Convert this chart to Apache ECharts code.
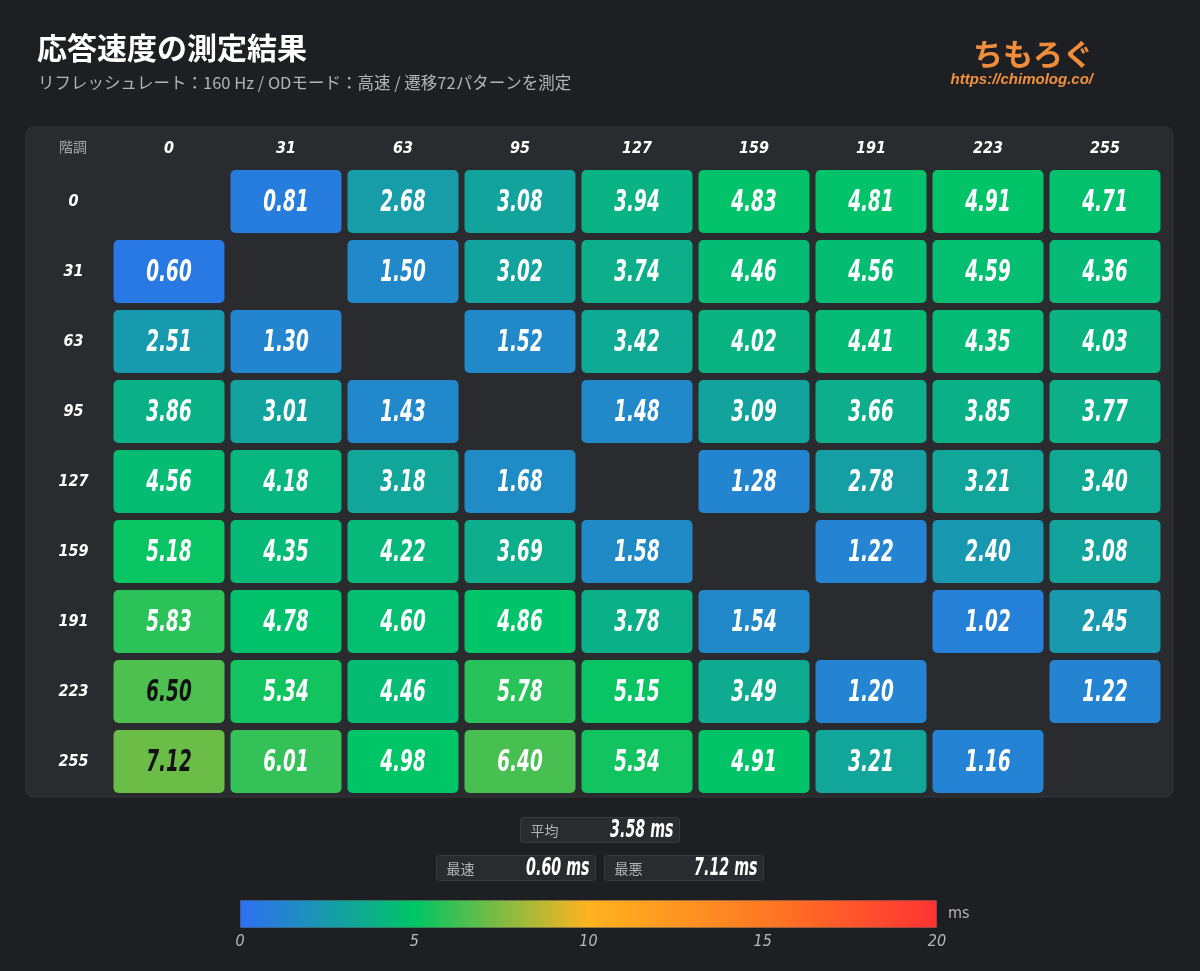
<!DOCTYPE html>
<html>
<head>
<meta charset="utf-8">
<script src="https://cdn.jsdelivr.net/npm/echarts@6/dist/echarts.min.js"></script>
<style>
    html, body { margin: 0; padding: 0; background: #1e1f22; }
    #main { width: 1200px; height: 971px; }
</style>
</head>
<body>
<div id="main"></div>
<script>
    // 階調 (from = row, to = column); the diagonal has no measurement
    var levels = ['0', '31', '63', '95', '127', '159', '191', '223', '255'];
    var from0   = [null, 0.81, 2.68, 3.08, 3.94, 4.83, 4.81, 4.91, 4.71];
    var from31  = [0.60, null, 1.50, 3.02, 3.74, 4.46, 4.56, 4.59, 4.36];
    var from63  = [2.51, 1.30, null, 1.52, 3.42, 4.02, 4.41, 4.35, 4.03];
    var from95  = [3.86, 3.01, 1.43, null, 1.48, 3.09, 3.66, 3.85, 3.77];
    var from127 = [4.56, 4.18, 3.18, 1.68, null, 1.28, 2.78, 3.21, 3.40];
    var from159 = [5.18, 4.35, 4.22, 3.69, 1.58, null, 1.22, 2.40, 3.08];
    var from191 = [5.83, 4.78, 4.60, 4.86, 3.78, 1.54, null, 1.02, 2.45];
    var from223 = [6.50, 5.34, 4.46, 5.78, 5.15, 3.49, 1.20, null, 1.22];
    var from255 = [7.12, 6.01, 4.98, 6.40, 5.34, 4.91, 3.21, 1.16, null];
    var rows = [from0, from31, from63, from95, from127, from159, from191, from223, from255];

    var scaleMin = 0;
    var scaleMax = 20;
    var scaleStep = 5;
    var scaleColors = ['#2f6ff5', '#00c565', '#ffb31f', '#ff7a22', '#ff3333'];

    // no Oswald here, so squeeze a condensed face horizontally
    var NUM_FONT = '"DejaVu Sans Condensed", "DejaVu Sans", sans-serif';
    var JP_FONT = '"Noto Sans CJK JP", "Noto Sans", sans-serif';
    var SQUEEZE = 0.66;

    var cells = [];
    var all = [];
    rows.forEach(function (row, y) {
        row.forEach(function (v, x) {
            if (v === null) return;
            cells.push([x, y, v]);
            all.push(v);
        });
    });
    var avg = all.reduce(function (a, b) { return a + b; }, 0) / all.length;
    var fastest = Math.min.apply(null, all);
    var slowest = Math.max.apply(null, all);

    function renderCell(params, api) {
        var c = api.coord([api.value(0), api.value(1)]);
        var s = api.size([1, 1]);
        var w = s[0] - 6, h = s[1] - 7;
        var v = api.value(2);
        return {
            type: 'group',
            children: [{
                type: 'rect',
                shape: { x: c[0] - w / 2, y: c[1] - h / 2, width: w, height: h, r: 5 },
                style: { fill: api.visual('color') }
            }, {
                type: 'text',
                x: c[0],
                y: c[1] + 1,
                scaleX: SQUEEZE,
                style: {
                    text: v.toFixed(2),
                    fill: v >= 6.45 ? '#111111' : '#ffffff',
                    font: 'italic bold 31px ' + NUM_FONT,
                    align: 'center',
                    verticalAlign: 'middle'
                }
            }]
        };
    }

    function statBox(x, y, label, value) {
        return {
            type: 'group',
            x: x,
            y: y,
            children: [{
                type: 'rect',
                shape: { x: 0, y: 0, width: 159, height: 25, r: 3 },
                style: { fill: '#2a2b2e', stroke: '#3a3b3f', lineWidth: 1 }
            }, {
                type: 'text',
                x: 10, y: 13,
                style: { text: label, fill: '#b4b4b4', font: '14px ' + JP_FONT, verticalAlign: 'middle' }
            }, {
                type: 'text',
                x: 153, y: 13,
                scaleX: SQUEEZE,
                style: { text: value.toFixed(2) + ' ms', fill: '#ffffff', font: 'italic bold 24px ' + NUM_FONT, align: 'right', verticalAlign: 'middle' }
            }]
        };
    }

    var chart = echarts.init(document.getElementById('main'));
    chart.setOption({
        backgroundColor: '#1e1f22',
        animation: false,
        grid: [
            { left: 110.5, top: 166.5, width: 1053, height: 630 },
            { left: 240, top: 900, width: 697, height: 28 }
        ],
        xAxis: [{
            type: 'category',
            data: levels,
            position: 'top',
            axisLine: { show: false },
            axisTick: { show: false },
            splitLine: { show: false },
            axisLabel: { color: '#ffffff', fontStyle: 'italic', fontWeight: 'bold', fontSize: 16, fontFamily: NUM_FONT, margin: 10 }
        }, {
            type: 'value',
            gridIndex: 1,
            min: scaleMin,
            max: scaleMax,
            interval: scaleStep,
            axisLine: { show: false },
            axisTick: { show: false },
            splitLine: { show: false },
            axisLabel: { color: '#b8b8b8', fontStyle: 'italic', fontSize: 16, fontFamily: NUM_FONT, margin: 6 }
        }],
        yAxis: [{
            type: 'category',
            data: levels,
            inverse: true,
            axisLine: { show: false },
            axisTick: { show: false },
            splitLine: { show: false },
            axisLabel: { color: '#ffffff', fontStyle: 'italic', fontWeight: 'bold', fontSize: 16, fontFamily: NUM_FONT, align: 'center', margin: 37 }
        }, {
            type: 'category',
            gridIndex: 1,
            data: ['ms'],
            position: 'right',
            axisLine: { show: false },
            axisTick: { show: false },
            axisLabel: { color: '#b8b8b8', fontSize: 16, fontFamily: NUM_FONT, margin: 11 }
        }],
        visualMap: {
            show: false,
            type: 'continuous',
            seriesIndex: 0,
            dimension: 2,
            min: scaleMin,
            max: scaleMax,
            inRange: { color: scaleColors }
        },
        series: [{
            type: 'custom',
            renderItem: renderCell,
            encode: { x: 0, y: 1 },
            data: cells,
            silent: true
        }, {
            type: 'bar',
            xAxisIndex: 1,
            yAxisIndex: 1,
            data: [scaleMax],
            barWidth: 28,
            silent: true,
            itemStyle: {
                borderColor: 'rgba(255,255,255,0.12)',
                borderWidth: 1,
                color: new echarts.graphic.LinearGradient(0, 0, 1, 0, scaleColors.map(function (c, i) {
                    return { offset: i / (scaleColors.length - 1), color: c };
                }))
            }
        }],
        graphic: [{
            type: 'rect',
            z: -10,
            shape: { x: 26, y: 127, width: 1147, height: 670, r: 8 },
            style: { fill: '#2a2b2e', stroke: '#35363a', lineWidth: 1 }
        }, {
            type: 'text',
            x: 73, y: 147,
            style: { text: '階調', fill: '#a8a8a8', font: '14px ' + JP_FONT, align: 'center', verticalAlign: 'middle' }
        }, {
            type: 'text',
            x: 37, y: 48,
            style: { text: '応答速度の測定結果', fill: '#ffffff', font: 'bold 30px ' + JP_FONT, verticalAlign: 'middle' }
        }, {
            type: 'text',
            x: 38, y: 83,
            style: { text: 'リフレッシュレート：160 Hz / ODモード：高速 / 遷移72パターンを測定', fill: '#b4b4b4', font: '16.5px ' + JP_FONT, verticalAlign: 'middle' }
        }, {
            type: 'text',
            x: 1093, y: 54,
            style: { text: 'ちもろぐ', fill: '#ef8d3d', font: 'bold 30px ' + JP_FONT, align: 'right', verticalAlign: 'middle' }
        }, {
            type: 'text',
            x: 1093, y: 80,
            style: { text: 'https://chimolog.co/', fill: '#f0913e', font: 'italic bold 15px "Liberation Sans", Arial, sans-serif', align: 'right', verticalAlign: 'middle' }
        },
        statBox(520.5, 817.5, '平均', avg),
        statBox(436.5, 855.5, '最速', fastest),
        statBox(604.5, 855.5, '最悪', slowest)
        ]
    });
</script>
</body>
</html>
